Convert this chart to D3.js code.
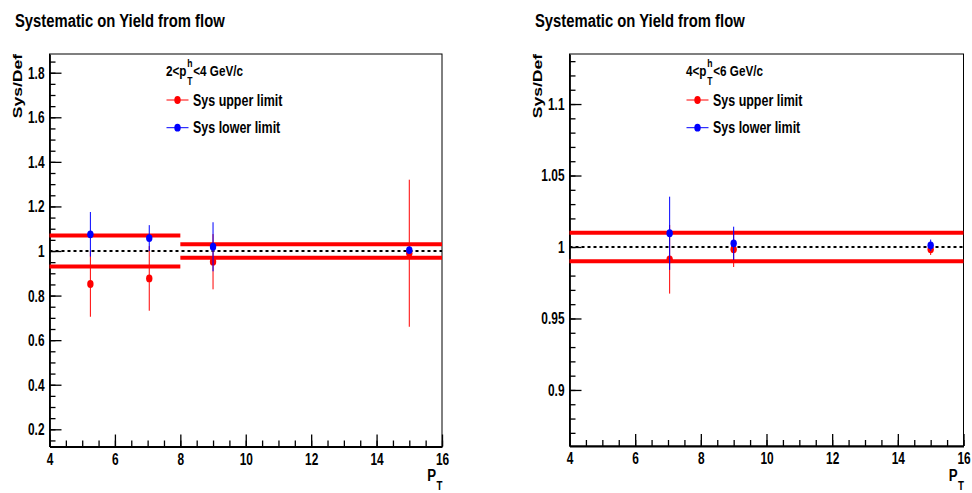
<!DOCTYPE html>
<html>
<head>
<meta charset="utf-8">
<script src="https://cdn.jsdelivr.net/npm/d3@7"></script>
<style>
  body { margin: 0; background: #fff; }
  svg { display: block; }
  text { font-family: "Liberation Sans", Arial, Helvetica, sans-serif; font-weight: bold; fill: #000; }
</style>
</head>
<body>
<svg id="chart" width="972" height="493"></svg>
<script>
// ---------------- data ----------------
const chartTitle = "Systematic on Yield from flow";
const yAxisTitle = "Sys/Def";
const xAxisTitle = "P";
const xAxisTitleSub = "T";
const xRange = [4, 16];
const xMajorTicks = [4, 6, 8, 10, 12, 14, 16];
const seriesNames = ["Sys upper limit", "Sys lower limit"];

// associated-hadron bin 2 < pT < 4 GeV/c
const lowHeader = { pre: "2<p", sup: "h", sub: "T", post: "<4 GeV/c" };
const lowYRange = [0.1228, 1.884];
const lowYMajorTicks = [0.2, 0.4, 0.6, 0.8, 1, 1.2, 1.4, 1.6, 1.8];
const lowBandEdges = [4, 8, 16];
const lowBandUpper = [1.07, 1.03];
const lowBandLower = [0.93, 0.97];
const lowPt = [5.25, 7.05, 9.0, 15.0];
const lowUpperVal = [0.852, 0.877, 0.952, 0.990];
const lowUpperErr = [0.147, 0.145, 0.124, 0.330];
const lowLowerVal = [1.075, 1.058, 1.019, 1.004];
const lowLowerErr = [0.100, 0.058, 0.110, 0.012];

// associated-hadron bin 4 < pT < 6 GeV/c
const highHeader = { pre: "4<p", sup: "h", sub: "T", post: "<6 GeV/c" };
const highYRange = [0.8608, 1.135];
const highYMajorTicks = [0.9, 0.95, 1, 1.05, 1.1];
const highBandEdges = [4, 16];
const highBandUpper = [1.01];
const highBandLower = [0.99];
const highPt = [7.05, 9.0, 15.0];
const highUpperVal = [0.9914, 0.9984, 0.9984];
const highUpperErr = [0.024, 0.0124, 0.004];
const highLowerVal = [1.0096, 1.0026, 1.0012];
const highLowerErr = [0.0256, 0.0116, 0.004];

// ---------------- drawing ----------------
const svg = d3.select("#chart");
svg.append("rect").attr("width", 972).attr("height", 493).attr("fill", "#fff");

const SX = 0.78;               // narrow glyph width for titles and legend
const SX_TICK = 0.7;           // narrower still for axis numbers
const RED = "#ff0000", BLUE = "#0000ff";
const fmt = v => String(+v.toFixed(3));

function text(parent, x, y, size, anchor, rot) {
  return parent.append("text")
    .attr("transform", `translate(${x},${y}) scale(${SX},1)` + (rot ? ` rotate(${rot})` : ""))
    .attr("font-size", size)
    .attr("text-anchor", anchor || "start");
}

function drawPanel(p) {
  const g = svg.append("g");
  const x = d3.scaleLinear().domain(xRange).range([p.left, p.right]);
  const y = d3.scaleLinear().domain(p.yRange).range([p.bottom, p.top]);

  // title
  text(g, p.ox + 15, 27, 19).text(chartTitle);

  // frame
  g.append("rect")
    .attr("x", p.left).attr("y", p.top)
    .attr("width", p.right - p.left).attr("height", p.bottom - p.top)
    .attr("fill", "none").attr("stroke", "#000").attr("stroke-width", 1);

  // x axis: minor then major ticks, drawn inside the frame
  const xMinor = d3.range(xRange[0], xRange[1] + 1e-9, 0.5);
  g.append("g").attr("transform", `translate(0,${p.bottom})`)
    .call(d3.axisBottom(x).tickValues(xMinor).tickSizeInner(-6).tickSizeOuter(0).tickFormat(""))
    .call(a => a.select(".domain").remove());
  const xa = g.append("g").attr("transform", `translate(0,${p.bottom})`)
    .call(d3.axisBottom(x).tickValues(xMajorTicks).tickSizeInner(-12).tickSizeOuter(0).tickPadding(6.2).tickFormat(fmt));
  xa.select(".domain").attr("stroke-width", 1.8);
  xa.selectAll("text").attr("font-size", 17).attr("transform", `scale(${SX_TICK},1)`);
  xa.attr("font-family", null);

  // y axis
  const yMinor = d3.range(p.yRange[0], p.yRange[1], p.yMinorStep)
    .map(v => Math.ceil(v / p.yMinorStep - 1e-6) * p.yMinorStep)
    .filter(v => v >= p.yRange[0] && v <= p.yRange[1]);
  g.append("g").attr("transform", `translate(${p.left},0)`)
    .call(d3.axisLeft(y).tickValues(yMinor).tickSizeInner(-6).tickSizeOuter(0).tickFormat(""))
    .call(a => a.select(".domain").remove());
  const ya = g.append("g").attr("transform", `translate(${p.left},0)`)
    .call(d3.axisLeft(y).tickValues(p.yMajor).tickSizeInner(-12).tickSizeOuter(0).tickPadding(5 / SX_TICK).tickFormat(fmt));
  ya.select(".domain").attr("stroke-width", 1.8);
  ya.selectAll("text").attr("font-size", 17).attr("transform", `scale(${SX_TICK},1)`);
  ya.attr("font-family", null);
  g.selectAll(".tick line").attr("stroke-width", 1.3);

  // axis titles
  text(g, p.ox + 21.5, p.top, 17.5, "end", -90).text(yAxisTitle);
  text(g, p.right - 6, 481, 17, "end").text(xAxisTitle);
  text(g, p.right - 5.5, 490, 12.5, "start").text(xAxisTitleSub);

  // systematic bands
  const bands = g.append("g").attr("stroke", RED).attr("stroke-width", 4);
  [p.bandUpper, p.bandLower].forEach(vals => {
    vals.forEach((v, i) => {
      bands.append("line")
        .attr("x1", x(p.bandEdges[i])).attr("x2", x(p.bandEdges[i + 1]))
        .attr("y1", y(v)).attr("y2", y(v));
    });
  });

  // unity reference
  g.append("line")
    .attr("x1", x(xRange[0])).attr("x2", x(xRange[1]))
    .attr("y1", y(1)).attr("y2", y(1))
    .attr("stroke", "#000").attr("stroke-width", 2).attr("stroke-dasharray", "3,3");

  // data points with error bars
  const series = [
    { val: p.upperVal, err: p.upperErr, color: RED },
    { val: p.lowerVal, err: p.lowerErr, color: BLUE }
  ];
  series.forEach(s => {
    const sg = g.append("g");
    p.pt.forEach((pt, i) => {
      sg.append("line")
        .attr("x1", x(pt)).attr("x2", x(pt))
        .attr("y1", y(s.val[i] - s.err[i])).attr("y2", y(s.val[i] + s.err[i]))
        .attr("stroke", s.color).attr("stroke-width", 1);
      sg.append("ellipse")
        .attr("cx", x(pt)).attr("cy", y(s.val[i]))
        .attr("rx", 3.2).attr("ry", 3.9).attr("fill", s.color);
    });
  });

  // legend
  const lg = g.append("g").attr("transform", `translate(${p.ox + 166},75.7) scale(${SX},1)`)
    .attr("font-size", 15);
  const pre = lg.append("text").attr("x", 0).attr("y", 0).text(p.header.pre);
  const w0 = pre.node().getComputedTextLength();
  const sup = lg.append("text").attr("x", w0 + 1).attr("y", -9).attr("font-size", 11).text(p.header.sup);
  const sub = lg.append("text").attr("x", w0 + 1).attr("y", 9.5).attr("font-size", 11).text(p.header.sub);
  const w1 = Math.max(sup.node().getComputedTextLength(), sub.node().getComputedTextLength());
  lg.append("text").attr("x", w0 + w1 + 2).attr("y", 0).text(p.header.post);

  [RED, BLUE].forEach((c, i) => {
    const ly = 100 + i * 27.7;
    g.append("line")
      .attr("x1", p.ox + 166.5).attr("x2", p.ox + 188.5)
      .attr("y1", ly).attr("y2", ly)
      .attr("stroke", c).attr("stroke-width", 1);
    g.append("ellipse").attr("cx", p.ox + 177.5).attr("cy", ly)
      .attr("rx", 3.2).attr("ry", 3.9).attr("fill", c);
    text(g, p.ox + 193, ly + 5.7, 16).text(seriesNames[i]);
  });
}

drawPanel({
  ox: 0, left: 49.5, right: 442, top: 54, bottom: 446.5,
  yRange: lowYRange, yMajor: lowYMajorTicks, yMinorStep: 0.05,
  header: lowHeader,
  bandEdges: lowBandEdges, bandUpper: lowBandUpper, bandLower: lowBandLower,
  pt: lowPt, upperVal: lowUpperVal, upperErr: lowUpperErr,
  lowerVal: lowLowerVal, lowerErr: lowLowerErr
});

drawPanel({
  ox: 520, left: 569.5, right: 963.5, top: 54, bottom: 446,
  yRange: highYRange, yMajor: highYMajorTicks, yMinorStep: 0.01,
  header: highHeader,
  bandEdges: highBandEdges, bandUpper: highBandUpper, bandLower: highBandLower,
  pt: highPt, upperVal: highUpperVal, upperErr: highUpperErr,
  lowerVal: highLowerVal, lowerErr: highLowerErr
});
</script>
</body>
</html>
